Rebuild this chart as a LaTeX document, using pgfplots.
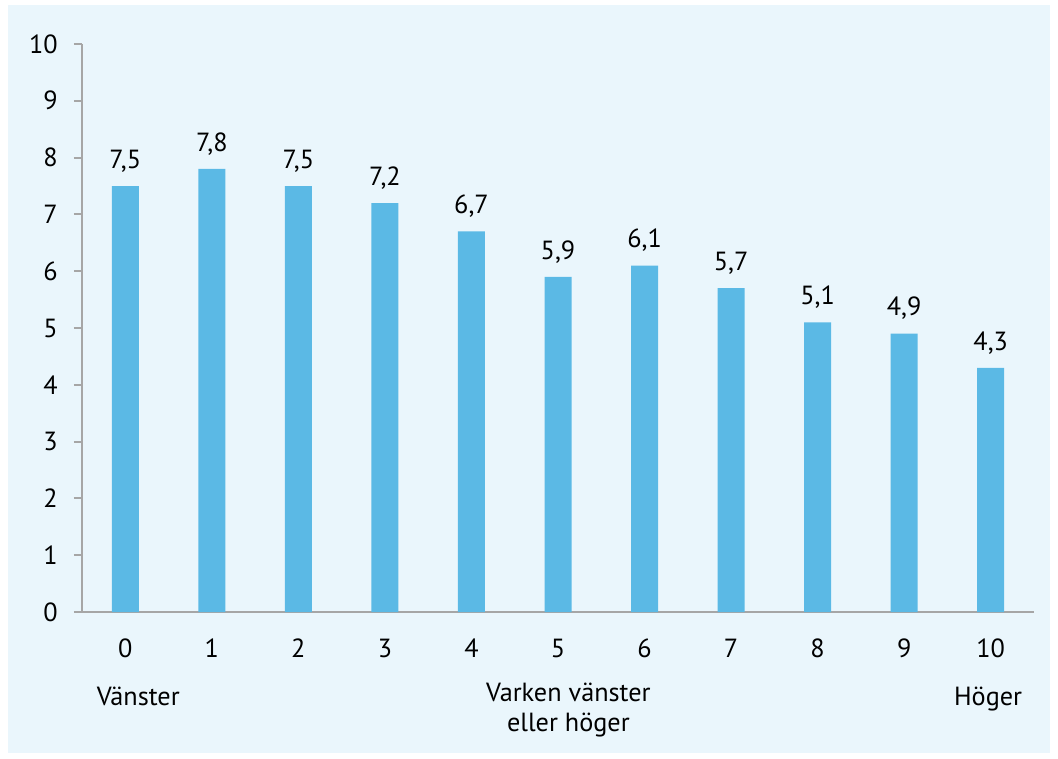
\documentclass[border=0pt]{standalone}
\usepackage{pgfplots}
\pgfplotsset{compat=1.18}
\usepackage{fontspec}
\setmainfont{PT Sans}
\usetikzlibrary{backgrounds}
\definecolor{barblue}{HTML}{5BB9E5}
\definecolor{panel}{HTML}{EAF6FC}
\definecolor{axgray}{HTML}{A6A6A6}

\begin{document}
\begin{tikzpicture}[x=1pt,y=1pt]
\begin{axis}[
    name=ax,
    at={(0,0)}, anchor=south west,
    scale only axis,
    width=380.8pt, height=227.2pt,
    xmin=-0.5, xmax=10.5,
    ymin=0, ymax=10,
    axis x line*=bottom,
    axis y line*=left,
    axis line style={axgray, line width=0.8pt},
    xtick={0,...,10},
    ytick={0,...,10},
    major x tick style={draw=none},
    major y tick style={axgray, line width=0.8pt},
    tick align=outside,
    major tick length=3.2pt,
    ytick pos=left,
    yticklabel style={xshift=-3pt},
    xticklabel style={yshift=-4pt},
    tick label style={font=\fontsize{10.5}{12}\selectfont},
    /pgf/number format/assume math mode=true,
    ybar, bar width=10.8pt,
    nodes near coords,
    every node near coord/.append style={font=\fontsize{10.5}{12}\selectfont, yshift=2pt,
      /pgf/number format/.cd, fixed, fixed zerofill, precision=1, use comma},
    clip=false,
]
\addplot[fill=barblue, draw=none] coordinates {
 (0,7.5) (1,7.8) (2,7.5) (3,7.2) (4,6.7) (5,5.9) (6,6.1) (7,5.7) (8,5.1) (9,4.9) (10,4.3)
};
\node[font=\fontsize{10.5}{12}\selectfont, anchor=north] at (axis cs:0.15,-1.17) {Vänster};
\node[font=\fontsize{10.5}{12}\selectfont, anchor=north, align=center] at (axis cs:5.12,-1.1) {Varken vänster\\eller höger};
\node[font=\fontsize{10.5}{12}\selectfont, anchor=north] at (axis cs:9.97,-1.17) {Höger};
\end{axis}
\begin{scope}[on background layer]
\fill[white] (-32.8,-58.4) rectangle (390.4,244.8);
\fill[panel] (-29.6,-56.4) rectangle (387.2,242.8);
\end{scope}
\end{tikzpicture}
\end{document}
